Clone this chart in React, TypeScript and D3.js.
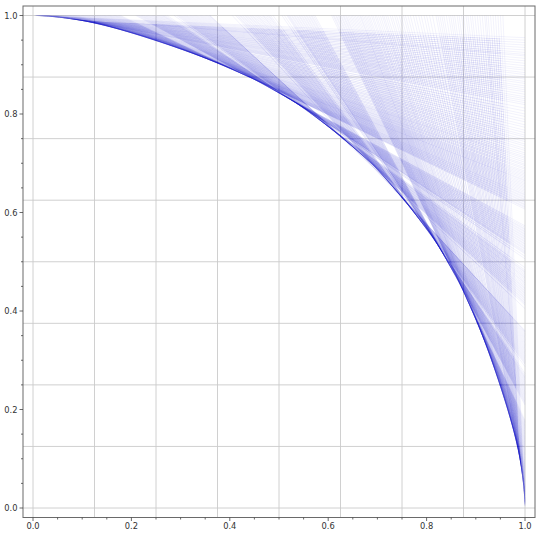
import React from "react";
import * as d3 from "d3";

// Each tangent line runs from (topCrossing, 1) to (1, rightCrossing).
const topCrossing = [
  .004,.006,.008,.010,.012,.015,.018,.021,.024,.027,.030,.033,.036,.040,.043,.046,.050,.054,.058,.062,
  .066,.070,.074,.078,.082,.086,.090,.095,.100,.105,.110,.115,.120,.125,.130,.135,.140,.145,.150,.155,
  .160,.165,.170,.175,.212,.217,.222,.227,.232,.237,.242,.247,.252,.257,.262,.266,.292,.297,.302,.307,
  .312,.317,.322,.327,.332,.337,.342,.347,.352,.357,.360,
];
const rightCrossing = [
  .955,.945,.935,.925,.918,.908,.898,.889,.880,.871,.862,.853,.845,.835,.827,.819,.806,.795,.784,.773,
  .762,.753,.744,.735,.726,.717,.710,.702,.695,.688,.681,.675,.669,.664,.658,.652,.646,.640,.635,.630,
  .625,.620,.615,.610,.570,.565,.560,.555,.550,.545,.540,.535,.530,.525,.520,.516,.483,.478,.472,.467,
  .461,.456,.450,.445,.440,.435,.430,.425,.420,.415,.405,
];
const topCrossingB = [
  .005,.007,.009,.011,.0135,.0165,.0195,.0225,.0255,.0285,.0315,.0345,.038,.0415,.0445,.048,.052,.056,.060,.064,
  .068,.072,.076,.080,.084,.088,.0925,.0975,.1025,.1075,.1125,.1175,.1225,.1275,.1325,.1375,.1425,.1475,.1525,.1575,
  .1625,.1675,.1725,.178,.209,.2145,.2195,.2245,.2295,.2345,.2395,.2445,.2495,.2545,.2595,.264,.269,.273,.287,.2945,
  .2995,.3045,.3095,.3145,.3195,.3245,.3295,.3345,.3395,.3445,.3495,.3545,.3585,
];
const rightCrossingB = [
  .95,.94,.93,.921,.913,.903,.893,.884,.875,.866,.857,.849,.840,.831,.823,.812,.800,.789,.778,.767,
  .757,.748,.739,.730,.721,.713,.706,.698,.691,.684,.678,.672,.666,.661,.655,.649,.643,.637,.632,.627,
  .622,.617,.612,.607,.573,.567,.562,.557,.552,.547,.542,.537,.532,.527,.522,.518,.511,.506,.488,.480,
  .475,.469,.464,.458,.453,.447,.442,.437,.432,.427,.422,.417,.412,
];
// Inner region where the line bundle is denser
const insetX = [0, .15, .95, .987, 1, 0];
const insetY = [1, .987, .954, .15, 0, 0];

const gridValues = [0, .125, .25, .375, .5, .625, .75, .875, 1];
const majorTicks = [0, .2, .4, .6, .8, 1];
const minorTicks = [.05, .1, .15, .25, .3, .35, .45, .5, .55, .65, .7, .75, .85, .9, .95];

const W = 540, H = 536;
const x = d3.scaleLinear().domain([0, 1]).range([33, 525]);
const y = d3.scaleLinear().domain([0, 1]).range([508, 15.5]);
const L = 23, R = 535, T = 6, B = 517.5;
const FONT = "'DejaVu Sans', sans-serif";
const BLUE = "#1010c8";

export default function App() {
  const tops = [...topCrossing, ...topCrossingB];
  const rights = [...rightCrossing, ...rightCrossingB];
  const pairs: [number, number][] = [
    ...tops.map((a, i) => [a, rights[i]] as [number, number]),
    ...tops.map((a, i) => [rights[i], a] as [number, number]),
  ];
  const inset = d3.line<number>().x((d) => x(d)).y((_, i) => y(insetY[i]))(insetX) + "Z";
  return (
    <svg width={W} height={H} style={{ position: "absolute", left: 0, top: 0, background: "#fff" }}>
      <defs>
        <clipPath id="inset"><path d={inset} /></clipPath>
        <filter id="soft" x="0" y="0" width="1" height="1"><feGaussianBlur stdDeviation="0.35" /></filter>
      </defs>
      <g filter="url(#soft)">
        {gridValues.map((g) => (
          <g key={g} stroke="#cbcbcb" strokeWidth={0.9}>
            <line x1={x(g)} x2={x(g)} y1={T} y2={B} />
            <line x1={L} x2={R} y1={y(g)} y2={y(g)} />
          </g>
        ))}
        <g stroke={BLUE} strokeWidth={0.8} strokeOpacity={0.065} fill="none">
          {pairs.map(([a, b], i) => (
            <line key={i} x1={x(a)} y1={y(1)} x2={x(1)} y2={y(b)} />
          ))}
        </g>
        <g clipPath="url(#inset)" stroke={BLUE} strokeWidth={0.8} strokeOpacity={0.07} fill="none">
          {pairs.map(([a, b], i) => (
            <line key={i} x1={x(a)} y1={y(1)} x2={x(1)} y2={y(b)} />
          ))}
        </g>
      </g>
      <rect x={L} y={T} width={R - L} height={B - T} fill="none" stroke="#6a6a6a" strokeWidth={1} />
      <g stroke="#444" strokeWidth={0.8}>
        {majorTicks.map((t) => (
          <g key={t}>
            <line x1={x(t)} x2={x(t)} y1={B} y2={B + 3.5} />
            <line x1={L} x2={L - 3.5} y1={y(t)} y2={y(t)} />
          </g>
        ))}
        {minorTicks.map((t) => (
          <g key={t}>
            <line x1={x(t)} x2={x(t)} y1={B} y2={B + 2} />
            <line x1={L} x2={L - 2} y1={y(t)} y2={y(t)} />
          </g>
        ))}
      </g>
      <g fontFamily={FONT} fontSize={8.3} fill="#333">
        {majorTicks.map((t) => (
          <g key={t}>
            <text x={x(t)} y={529} textAnchor="middle">{t.toFixed(1)}</text>
            <text x={17.5} y={y(t) + 3} textAnchor="end">{t.toFixed(1)}</text>
          </g>
        ))}
      </g>
    </svg>
  );
}
